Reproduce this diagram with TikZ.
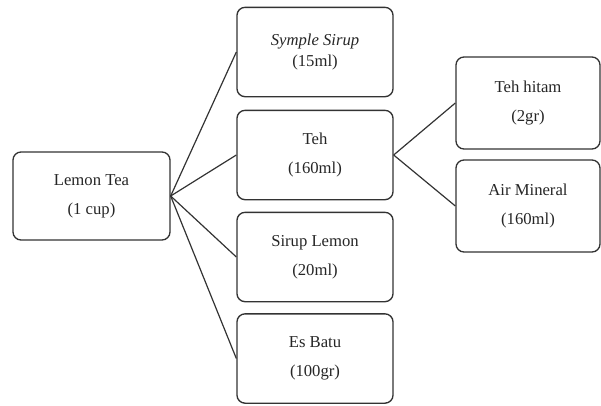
\documentclass[tikz,border=0pt]{standalone}
\usepackage{fontspec}
\setmainfont{Liberation Serif}
\usetikzlibrary{positioning}

\begin{document}
\begin{tikzpicture}[x=0.75pt,y=-0.75pt]
	\useasboundingbox (0,0) rectangle (601,405);
	\tikzset{kotak/.style={rectangle,draw=black!80,line width=1pt,rounded corners=6pt,fill=white,text=black!85,align=center,font={\fontsize{12.5}{22}\selectfont},minimum width=117pt,minimum height=67pt}}
	
	\node[kotak,minimum width=117.75pt,minimum height=66pt] (lt) at (91.5,196){Lemon Tea\\(1 cup)};
	
	% bahan lemon tea
	\node[kotak,font={\fontsize{12.5}{15.5}\selectfont}] (b1) at (315,52){\textit{Symple Sirup}\\(15ml)};
	\foreach \i/\y/\name in {2/155/{Teh\\(160ml)},3/257/{Sirup Lemon\\(20ml)},4/358.5/{Es Batu\\(100gr)}}{
		\node[kotak] (b\i) at (315,\y){\name};
	}
	
	% bahan teh
	\foreach \i/\y/\name in {1/103/{Teh hitam\\(2gr)},2/206/{Air Mineral\\(160ml)}}{
		\node[kotak,minimum width=108pt,minimum height=69pt] (c\i) at (528,\y){\name};
	}
	
	\foreach \i in {1,2,3,4}{
		\draw[color=black!80,line width=0.9pt] (lt.east)--(b\i.west);}
	
	\foreach \i in {1,2}{
		\draw[color=black!80,line width=0.9pt] (b2.east)--(c\i.west);}
\end{tikzpicture}
\end{document}
